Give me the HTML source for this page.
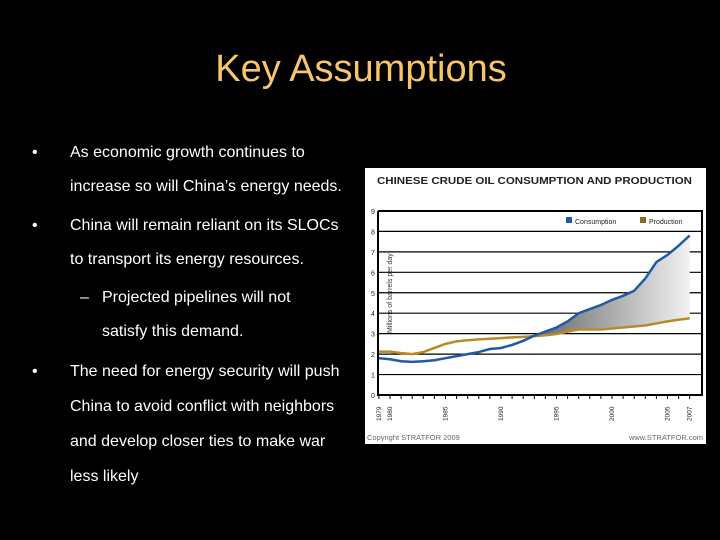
<!DOCTYPE html>
<html><head><meta charset="utf-8"><style>
body{margin:0;background:#000;}
svg{display:block}
text{font-family:"Liberation Sans",sans-serif}
</style></head><body>
<svg width="720" height="540" viewBox="0 0 720 540">
<rect width="720" height="540" fill="#000"/>
<text x="361" y="81" text-anchor="middle" font-size="38" fill="#f7c46c">Key Assumptions</text>
<g fill="#fff" font-size="16">
<text x="32" y="157">•</text><text x="70" y="157">As economic growth continues to</text>
<text x="70" y="191">increase so will China’s energy needs.</text>
<text x="32" y="230">•</text><text x="70" y="230">China will remain reliant on its SLOCs</text>
<text x="70" y="264">to transport its energy resources.</text>
<text x="80" y="302">–</text><text x="102" y="302">Projected pipelines will not</text>
<text x="102" y="336">satisfy this demand.</text>
<text x="32" y="376">•</text><text x="70" y="376">The need for energy security will push</text>
<text x="70" y="411">China to avoid conflict with neighbors</text>
<text x="70" y="446">and develop closer ties to make war</text>
<text x="70" y="481">less likely</text>
</g>
<g id="chart">
<rect x="365" y="168" width="341" height="276" fill="#fff"/>
<text x="377" y="184" font-size="10.5" font-weight="bold" fill="#222" textLength="315" lengthAdjust="spacingAndGlyphs">CHINESE CRUDE OIL CONSUMPTION AND PRODUCTION</text>
<text x="367" y="440" font-size="7.5" fill="#666">Copyright STRATFOR 2009</text>
<text x="703" y="440" font-size="7.5" fill="#666" text-anchor="end">www.STRATFOR.com</text>
<text transform="translate(392,333) rotate(-90)" font-size="7" fill="#333">Millions of barrels per day</text>
<rect x="566" y="217" width="6" height="6" fill="#1f5aa6"/>
<text x="575" y="224" font-size="7" fill="#222">Consumption</text>
<rect x="640" y="217" width="6" height="6" fill="#8a6a20"/>
<text x="649" y="224" font-size="7" fill="#222">Production</text>
</g>
</svg>
<script>
const years=[1979,1980,1981,1982,1983,1984,1985,1986,1987,1988,1989,1990,1991,1992,1993,1994,1995,1996,1997,1998,1999,2000,2001,2002,2003,2004,2005,2006,2007];
const consumption=[1.8,1.75,1.65,1.62,1.65,1.7,1.8,1.9,2.0,2.1,2.25,2.3,2.45,2.65,2.9,3.1,3.3,3.6,4.0,4.2,4.4,4.65,4.85,5.1,5.7,6.5,6.85,7.3,7.8];
const production=[2.12,2.12,2.05,2.0,2.1,2.3,2.5,2.62,2.68,2.72,2.75,2.78,2.82,2.84,2.88,2.92,2.98,3.1,3.2,3.2,3.2,3.25,3.3,3.35,3.4,3.5,3.6,3.68,3.75];
const yTicks=[0,1,2,3,4,5,6,7,8,9];
const xTickLabels=["1979","1980","1985","1990","1995","2000","2005","2007"];
const NS="http://www.w3.org/2000/svg";
const g=document.getElementById('chart');
const X=y=>390+(y-1980)*11.1;
const Y=v=>395-v*20.45;
function mk(t,a){const e=document.createElementNS(NS,t);for(const k in a)e.setAttribute(k,a[k]);g.appendChild(e);return e;}
yTicks.forEach(t=>{
 if(t>0){const l=mk('line',{x1:378,x2:702,y1:Y(t),y2:Y(t),stroke:'#000','stroke-width':1.2});
 
 }
 const tx=mk('text',{x:371,y:Y(t)+3,'font-size':7,fill:'#222'});tx.textContent=t;
 
 
});
const defs=mk('defs',{});
defs.innerHTML='<linearGradient id="gf" x1="0" x2="1" y1="0" y2="0"><stop offset="0" stop-color="#666"/><stop offset="1" stop-color="#f2f2f2"/></linearGradient>';
let pts=[];years.forEach((yr,i)=>{if(consumption[i]>=production[i])pts.push(X(yr)+','+Y(consumption[i]));});
for(let i=years.length-1;i>=0;i--){if(consumption[i]>=production[i])pts.push(X(years[i])+','+Y(production[i]));}
const gap=mk('polygon',{points:pts.join(' '),fill:'url(#gf)'});


const fr=mk('polyline',{points:`378,${Y(9)} 702,${Y(9)} 702,${Y(0)} 378,${Y(0)} 378,${Y(9)}`,fill:'none',stroke:'#000','stroke-width':2});


years.forEach(yr=>{const t=mk('line',{x1:X(yr),x2:X(yr),y1:Y(0),y2:Y(0)+4,stroke:'#000'});
 
 });
xTickLabels.forEach(s=>{const yr=+s;const t=mk('text',{transform:`translate(${X(yr)+2},${Y(0)+26}) rotate(-90)`,'font-size':6.5,fill:'#222'});t.textContent=s;
 
 });
const pp=mk('polyline',{points:years.map((y,i)=>X(y)+','+Y(production[i])).join(' '),fill:'none',stroke:'#b88a2a','stroke-width':2.5});


const cp=mk('polyline',{points:years.map((y,i)=>X(y)+','+Y(consumption[i])).join(' '),fill:'none',stroke:'#1f5aa6','stroke-width':2.5});


</script>
</body></html>
